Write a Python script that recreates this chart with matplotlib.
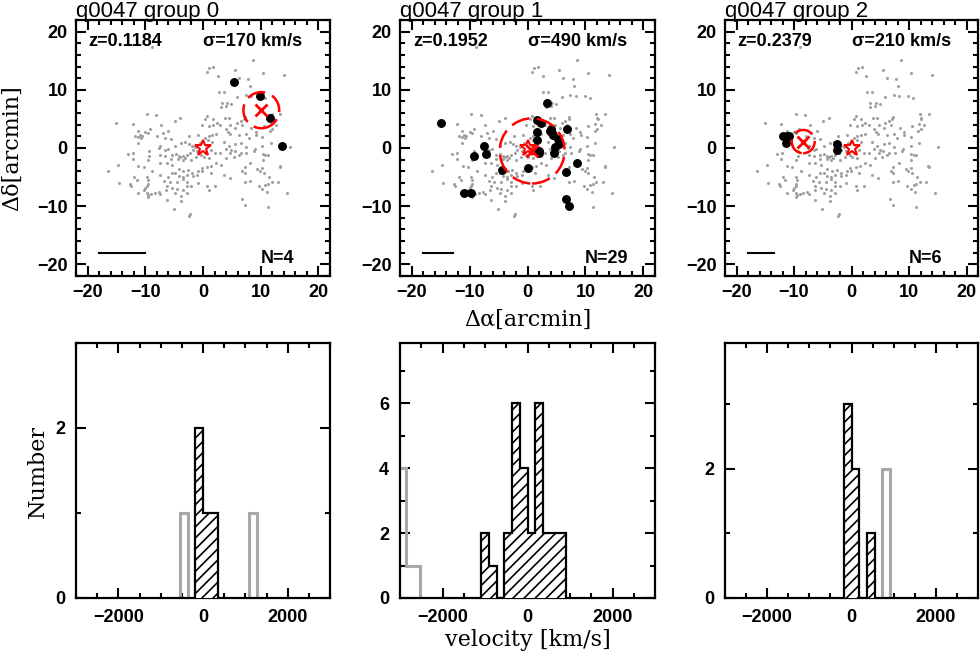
import numpy as np
import matplotlib.pyplot as plt
from matplotlib.patches import Circle
from matplotlib.ticker import MultipleLocator

plt.rcParams['font.family'] = ['Liberation Sans', 'DejaVu Sans']
plt.rcParams['font.weight'] = 'bold'
plt.rcParams['hatch.linewidth'] = 1.2

# field galaxies around the quasar (arcmin), same in every panel
field_pts = [
    (-15.0, 4.3), (-12.2, 4.2), (-9.7, 5.9), (-8.1, 5.6), (-11.3, 3.0), (-10.0, 2.7), (-9.6, 2.5),
    (-9.2, 3.3), (-11.8, 2.0), (-11.3, 1.9), (-10.9, 2.3), (-10.6, 2.0), (-10.8, 1.7), (-8.0, 2.0),
    (-7.3, 4.0), (-7.0, 2.5), (-6.6, 1.8), (-6.0, 2.9), (-4.9, 4.7), (-3.9, 5.2), (-5.5, 1.5), (-2.4, 2.0),
    (8.6, 15.1), (1.1, 13.8), (1.8, 14.0), (0.7, 13.1), (2.6, 12.4), (5.5, 13.4), (6.2, 12.1), (10.4, 12.9),
    (14.0, 12.6), (8.1, 10.6), (2.7, 9.7), (3.6, 9.7), (5.9, 8.7), (7.4, 9.1), (3.3, 7.8), (4.2, 7.8),
    (4.9, 7.5), (4.0, 7.2), (3.2, 7.0), (0.7, 5.5), (0.4, 4.9), (1.7, 4.9), (2.4, 4.3), (1.8, 3.9),
    (-0.2, 3.9), (1.0, 3.7), (3.0, 3.9), (3.8, 5.1), (4.5, 5.2), (4.7, 4.0), (5.9, 4.3), (6.5, 4.6),
    (6.8, 4.0), (7.1, 4.9), (5.6, 3.5), (3.9, 3.2), (4.3, 2.8), (4.6, 2.4), (6.2, 2.3), (7.4, 2.4),
    (7.9, 1.8), (1.6, 2.3), (2.3, 2.4), (1.0, 2.0), (-0.8, 2.3), (0.4, 1.7), (9.1, 2.8), (12.0, 3.3),
    (10.5, 3.7), (12.1, 4.9), (12.6, 4.0),
    (15.0, 0.2), (14.6, -7.8), (13.4, -3.2), (13.0, -5.9), (-8.9, 17.3),
    (13.4, 5.9), (11.9, 5.8), (12.0, 5.2), (11.7, 4.2), (11.6, 2.9), (9.9, 8.9), (10.7, 8.6), (8.3, 9.0),
    (7.8, 11.9), (7.2, 5.4), (8.4, 3.5), (9.2, 2.3), (10.3, 1.9), (10.4, -1.0), (9.9, -4.0), (7.2, -5.9),
    (7.2, -3.2),
    (-11.3, 0.9), (-7.4, 0.3), (-7.6, 0.0), (-6.6, -0.3), (-6.1, -0.2), (-9.3, -0.6), (-13.0, -1.0),
    (-12.1, -0.9), (-9.3, -1.3), (-12.2, -1.9), (-7.4, -1.2), (-6.6, -1.3), (-5.4, -1.2), (-4.7, -1.0),
    (-4.2, -1.3), (-3.9, -1.6), (-3.5, -1.3), (-3.2, -1.7), (-2.8, -1.2), (-2.2, -0.9), (-1.8, -0.3),
    (-3.1, 1.0), (-2.5, 0.7), (-1.9, 0.4), (-1.3, 0.2), (-4.8, 0.3), (-3.8, 0.9), (-5.5, -1.9),
    (-4.3, -1.9), (-3.5, -2.1), (-2.0, -2.0), (-7.4, -2.5), (-6.3, -2.6), (-5.3, -2.9), (-14.7, -2.9),
    (-11.2, -3.1), (-10.3, -3.3), (-9.6, -2.1), (-16.5, -4.0), (-4.2, -3.6), (-3.4, -4.0), (-2.6, -3.8),
    (-1.9, -4.3), (-8.8, -4.0), (-7.4, -4.6), (-6.1, -4.9), (-5.4, -4.3), (-4.8, -4.3), (-4.2, -4.8),
    (-3.5, -5.0), (-2.8, -4.6), (-1.8, -4.8), (-11.9, -5.0), (-11.5, -5.5), (-9.7, -4.9), (-9.5, -5.5),
    (-6.7, -5.6), (-5.7, -5.8), (-4.5, -5.8), (-3.5, -5.4), (-2.8, -5.8), (-14.6, -6.1), (-12.6, -6.2),
    (-12.5, -6.6), (-9.6, -6.2), (-9.7, -6.6), (-10.0, -6.9), (-10.2, -7.2), (-6.3, -6.6), (-5.3, -6.9),
    (-4.5, -7.1), (-3.5, -7.2), (-2.8, -6.5), (-2.0, -6.6), (-11.2, -7.7), (-9.7, -7.7), (-9.5, -8.1),
    (-9.6, -8.5), (-9.0, -7.9), (-8.4, -7.7), (-7.7, -7.5), (-7.4, -7.9), (-6.4, -7.2), (-4.8, -7.8),
    (-3.8, -8.3), (-2.8, -7.8), (-6.3, -8.9), (-3.8, -9.1), (-5.1, -10.4), (-2.2, -11.4), (-2.4, -11.7),
    (1.6, 1.1), (3.6, 1.1), (4.5, 0.4), (5.6, 0.7), (6.5, 0.9), (7.4, 0.2), (9.0, -0.2), (8.8, -0.6),
    (10.3, 0.3), (11.7, 0.9), (1.3, -0.3), (2.1, -0.8), (3.0, -0.9), (3.9, -0.2), (4.7, -0.9), (4.9, -0.3),
    (5.5, -0.6), (6.2, -1.2), (6.5, -0.8), (7.5, -0.8), (-1.2, -1.5), (0.1, -1.5), (1.0, -1.7), (2.3, -2.5),
    (3.2, -2.9), (4.0, -1.7), (5.3, -1.5), (10.8, -1.2), (11.3, -1.2), (-0.2, -3.5), (0.7, -3.2),
    (1.4, -3.1), (-0.8, -4.0), (-1.0, -4.6), (-0.1, -3.9), (1.3, -4.3), (3.6, -4.6), (4.6, -5.2),
    (6.8, -4.0), (7.2, -4.3), (8.2, -2.6), (9.4, -3.6), (10.3, -3.5), (10.5, -4.3), (10.4, -2.1),
    (11.4, -4.9), (13.3, -3.1), (11.9, -5.8), (9.7, -6.5), (10.8, -6.3), (11.3, -6.2), (10.3, -7.1),
    (11.1, -7.5), (-0.9, -6.1), (0.7, -6.5), (1.0, -7.2), (2.1, -6.6), (8.1, -5.6), (6.7, -8.7),
    (7.2, -9.8), (11.3, -10.1),
    (-0.6, 0.9), (0.6, 0.5), (-1.0, -0.6), (0.4, -0.9), (-0.3, -1.2), (0.9, 1.3),
]
field_dx = [p[0] for p in field_pts]
field_dy = [p[1] for p in field_pts]

# group members (arcmin)
member_dx = [
    [5.3, 9.9, 11.6, 13.6],
    [-15.0, 3.3, 1.6, 2.4, 3.9, 4.2, 6.9, 1.7, 1.7, 5.3, 5.5, 4.7, 4.5, 2.0, -7.5, -7.1, -9.3,
     -4.4, 0.0, 6.6, 8.6, 6.6, 7.2, -11.0, -9.7, 4.0, 4.4, 5.4, 2.0],
    [-12.0, -11.3, -10.8, -11.4, -2.6, -2.6],
]
member_dy = [
    [11.4, 8.9, 5.2, 0.4],
    [4.3, 7.8, 4.8, 4.3, 3.0, 2.6, 3.2, 2.8, 1.3, 1.6, 0.7, 0.1, -0.9, -0.9, 0.3, -1.0, -1.3,
     -3.8, -3.5, -4.1, -2.5, -8.7, -9.9, -7.7, -7.8, 3.2, 2.3, 1.1, -0.6],
    [2.0, 2.0, 2.1, 0.9, 0.7, -0.4],
]

group_names = ['q0047 group 0', 'q0047 group 1', 'q0047 group 2']
redshifts = ['0.1184', '0.1952', '0.2379']
sigmas = [170, 490, 210]
n_members = [4, 29, 6]
center_x = [10.1, 0.8, -8.4]
center_y = [6.5, -0.5, 1.1]
radius = [3.1, 5.6, 2.0]
scale_len = [8.0, 5.1, 4.5]

# velocity histograms (km/s)
black_edges = [
    [-182, 0, 182, 364],
    [-1092, -910, -728, -546, -364, -182, 0, 182, 364, 546, 728, 910],
    [-182, 0, 182, 364, 546],
]
black_counts = [
    [2, 1, 1],
    [2, 1, 0, 2, 6, 4, 2, 6, 2, 2, 2],
    [3, 2, 0, 1],
]
grey_edges = [
    [[-546, -364], [1092, 1274]],
    [[-3100, -2860, -2520]],
    [[728, 910]],
]
grey_counts = [
    [[1], [1]],
    [[4, 1]],
    [[2]],
]
hist_ymax = [3.0, 7.85, 3.95]

W, H = 980, 653
fig = plt.figure(figsize=(W / 100, H / 100), dpi=100)


def add_px_axes(left, top, right, bottom):
    return fig.add_axes([left / W, 1 - bottom / H, (right - left) / W, (bottom - top) / H])


def style_axes(ax, pad):
    ax.tick_params(which='both', direction='in', top=True, right=True, width=1.5,
                   labelsize=13, pad=pad)
    ax.tick_params(which='major', length=7)
    ax.tick_params(which='minor', length=3.5)
    for s in ax.spines.values():
        s.set_linewidth(1.6)


lefts = [76, 400, 725]
rights = [330, 655, 978]

for i in range(3):
    # sky map
    ax = add_px_axes(lefts[i], 20, rights[i], 276)
    ax.plot(field_dx, field_dy, 'o', ms=2.2, mew=0, color='#a0a0a0', zorder=1)
    ax.plot(member_dx[i], member_dy[i], 'o', ms=5.4, color='black', zorder=3)
    ax.plot(0, 0, '*', ms=12, mfc='none', mec='red', mew=1.5, zorder=4)
    ax.plot(center_x[i], center_y[i], 'x', ms=8, mec='red', mew=2, zorder=4)
    ax.add_patch(Circle((center_x[i], center_y[i]), radius[i], fill=False, ec='red',
                        lw=1.8, ls=(0, (7.5, 3)), zorder=4))
    ax.plot([-18, -18 + scale_len[i]], [-18, -18], color='black', lw=1.5)
    ax.set_xlim(-22, 22)
    ax.set_ylim(-22, 22)
    ax.xaxis.set_major_locator(MultipleLocator(10))
    ax.xaxis.set_minor_locator(MultipleLocator(2))
    ax.yaxis.set_major_locator(MultipleLocator(10))
    ax.yaxis.set_minor_locator(MultipleLocator(2))
    style_axes(ax, 6)
    ax.text(0.05, 0.915, 'z=' + redshifts[i], transform=ax.transAxes, fontsize=13,
            va='center', ha='left')
    ax.text(0.5, 0.915, 'σ=%d km/s' % sigmas[i], transform=ax.transAxes, fontsize=13,
            va='center', ha='left')
    ax.text(0.726, 0.07, 'N=%d' % n_members[i], transform=ax.transAxes, fontsize=13,
            va='center', ha='left')
    ax.text(0.0, 1.012, group_names[i], transform=ax.transAxes, fontsize=16,
            fontweight='normal', va='baseline', ha='left')

    # velocity histogram
    hx = add_px_axes(lefts[i], 343, rights[i], 598)
    for e, c in zip(grey_edges[i], grey_counts[i]):
        hx.stairs(c, e, color='#a8a8a8', lw=2.2, zorder=2)
    hx.stairs(black_counts[i], black_edges[i], fill=True, facecolor='white',
              edgecolor='black', hatch='///', lw=1.6, zorder=3)
    hx.set_xlim(-3000, 3000)
    hx.set_ylim(0, hist_ymax[i])
    hx.xaxis.set_major_locator(MultipleLocator(2000))
    hx.xaxis.set_minor_locator(MultipleLocator(500))
    hx.yaxis.set_major_locator(MultipleLocator(2))
    hx.yaxis.set_minor_locator(MultipleLocator(1))
    style_axes(hx, 8)

lab = dict(family=['DejaVu Serif'], fontsize=16, fontweight='normal', ha='center', va='center')
fig.text(12.5 / W, 1 - 148 / H, 'Δδ[arcmin]', rotation=90, **lab)
fig.text(527.7 / W, 1 - 320 / H, 'Δα[arcmin]', **lab)
fig.text(38 / W, 1 - 472 / H, 'Number', rotation=90, **lab)
fig.text(528 / W, 1 - 640 / H, 'velocity [km/s]', **lab)

fig.savefig('out.png', dpi=100)
